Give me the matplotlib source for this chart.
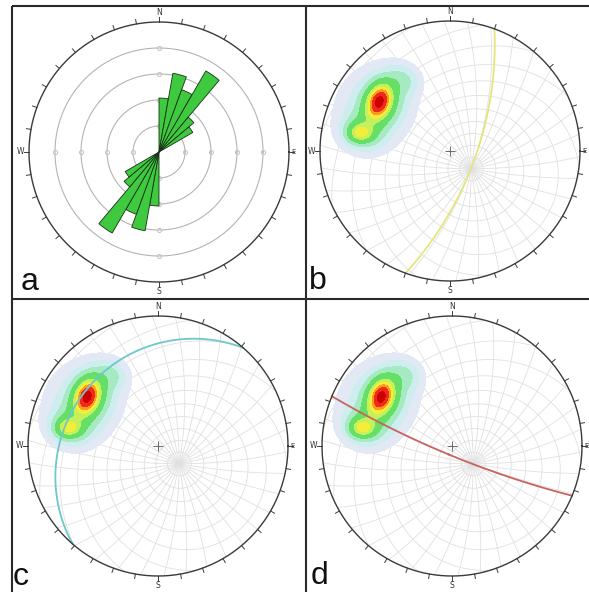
import numpy as np
import matplotlib.pyplot as plt

# taille de la figure (pixels)
W_PX, H_PX = 589, 592
R_PX = 130.0

# centres des canevas (pixels, origine en haut a gauche)
centre_a = (159, 152)
centre_b = (450, 151)
centre_c = (158, 446)
centre_d = (452, 446)

# rose des directions : classes de 10 degres (bidirectionnelle)
rose_azim = np.arange(0, 180, 10)
rose_eff = [8.3, 12.3, 10.2, 14.4, 7.0, 6.0, 0, 0, 0, 0, 0, 0, 0, 0, 0, 0, 0, 0]
rose_cercles = [4, 8, 12, 16]
rose_max = 20

# pole du canevas tourne (azimut, plongement)
pole_canevas = (130, 66)

# amas de densite (coordonnees projetees, rayon du canevas = 1)
dens_x = [-0.545, -0.53, -0.69, -0.67, -0.35, -0.58]
dens_y = [0.38, 0.37, 0.14, 0.15, 0.55, 0.33]
dens_amp = [0.70, 0.27, 0.38, 0.19, 0.10, 0.10]
dens_sx = [0.058, 0.10, 0.06, 0.10, 0.08, 0.20]
dens_sy = [0.088, 0.14, 0.045, 0.085, 0.07, 0.22]
dens_rot = [20, 25, 0, 10, 30, 30]

# niveaux (fraction du maximum) et couleurs des contours
niveaux = [0.03, 0.07, 0.13, 0.22, 0.40, 0.52, 0.64, 0.76, 0.92, 1.01]
couleurs = ['#e3e9f4', '#cdedee', '#a6eac2', '#66df66', '#c6ef5c',
            '#f2ee3c', '#ff9a1c', '#f02a1a', '#cc0000']

# plans : (direction de pendage, pendage)
plan_b = (110, 67.5)
plan_c = (311, 20)
plan_d = (202.5, 82)


def vecteur(az, pl):
    az, pl = np.radians(az), np.radians(pl)
    return np.array([np.cos(pl) * np.cos(az), np.cos(pl) * np.sin(az), np.sin(pl)])


# projection stereographique (Wulff), hemisphere inferieur
def projette(v):
    n, e, d = v
    d = np.where(d < -1e-9, np.nan, d)
    return e / (1 + d), n / (1 + d)


def base(axe):
    axe = axe / np.linalg.norm(axe)
    z = np.array([0.0, 0.0, 1.0])
    e1 = z - axe * np.dot(z, axe)
    if np.linalg.norm(e1) < 1e-6:
        e1 = np.array([1.0, 0.0, 0.0])
    e1 = e1 / np.linalg.norm(e1)
    e2 = np.cross(axe, e1)
    return axe, e1, e2


def petit_cercle(axe, alpha, nb=1441):
    axe, e1, e2 = base(axe)
    s = np.linspace(0, 2 * np.pi, nb)
    a = np.radians(alpha)
    pts = np.cos(a) * axe[:, None] + np.sin(a) * (np.cos(s) * e1[:, None] + np.sin(s) * e2[:, None])
    return projette(pts)


def grand_cercle(plan):
    dd, dip = plan
    return petit_cercle(vecteur(dd + 180, 90 - dip), 90)


def canevas(centre):
    cx, cy = centre
    dem = 150.0
    ax = fig.add_axes([(cx - dem) / W_PX, 1 - (cy + dem) / H_PX, 2 * dem / W_PX, 2 * dem / H_PX])
    ax.set_xlim(-dem / R_PX, dem / R_PX)
    ax.set_ylim(-dem / R_PX, dem / R_PX)
    ax.axis('off')
    return ax


def bordure(ax):
    t = np.linspace(0, 2 * np.pi, 721)
    ax.plot(np.cos(t), np.sin(t), color='#3a3a3a', lw=1.0, zorder=6)
    for az in range(0, 360, 10):
        a = np.radians(az)
        ax.plot([np.sin(a), 1.035 * np.sin(a)], [np.cos(a), 1.035 * np.cos(a)],
                color='#3a3a3a', lw=0.7, zorder=6)
    ax.text(0, 1.035, 'N', fontsize=5.5, color='#333333', ha='center', va='bottom')
    ax.text(0, -1.04, 'S', fontsize=5.5, color='#333333', ha='center', va='top')
    ax.text(-1.035, 0, 'W', fontsize=5.5, color='#333333', ha='right', va='center')
    ax.text(1.02, 0, 'E', fontsize=5, color='#333333', ha='left', va='center')


def grille(ax):
    p, e1, e2 = base(vecteur(*pole_canevas))
    for alpha in range(10, 180, 10):
        x, y = petit_cercle(p, alpha)
        ax.plot(x, y, color='#e0e0e0', lw=0.6, zorder=1)
    for phi in range(0, 180, 10):
        f = np.radians(phi)
        w = -np.sin(f) * e1 + np.cos(f) * e2
        x, y = petit_cercle(w, 90)
        ax.plot(x, y, color='#e0e0e0', lw=0.6, zorder=1)
    ax.plot(0, 0, '+', color='#6a6a6a', ms=7, mew=0.7, zorder=5)


def densite(ax):
    xs = np.linspace(-1, 1, 400)
    X, Y = np.meshgrid(xs, xs)
    Z = np.zeros_like(X)
    for x0, y0, a, sx, sy, rot in zip(dens_x, dens_y, dens_amp, dens_sx, dens_sy, dens_rot):
        r = np.radians(rot)
        u = (X - x0) * np.cos(r) - (Y - y0) * np.sin(r)
        v = (X - x0) * np.sin(r) + (Y - y0) * np.cos(r)
        Z += a * np.exp(-0.5 * ((u / sx) ** 2 + (v / sy) ** 2))
    Z = Z / Z.max()
    Z[X ** 2 + Y ** 2 > 1] = np.nan
    ax.contourf(X, Y, Z, levels=niveaux, colors=couleurs, zorder=2)


fig = plt.figure(figsize=(W_PX / 100, H_PX / 100), dpi=100)

# cadre des panneaux
cadre = fig.add_axes([0, 0, 1, 1])
cadre.set_xlim(0, W_PX)
cadre.set_ylim(H_PX, 0)
cadre.axis('off')
for xs, ys in [([12, 589], [6, 6]), ([12, 12], [6, 592]),
               ([12, 589], [299, 299]), ([306, 306], [6, 592])]:
    cadre.plot(xs, ys, color='#2a2a2a', lw=1.5, solid_capstyle='butt')

# (a) rose des directions
ax = canevas(centre_a)
bordure(ax)
t = np.linspace(0, 2 * np.pi, 361)
for c in rose_cercles:
    rr = c / rose_max
    ax.plot(rr * np.cos(t), rr * np.sin(t), color='#b4b4b4', lw=0.8, zorder=1)
    ax.plot([0, 0, rr, -rr], [rr, -rr, 0, 0], 'o', ms=3, mfc='none', mec='#c4c4c4', mew=0.7, zorder=1)

cx, cy = centre_a
axp = fig.add_axes([(cx - R_PX) / W_PX, 1 - (cy + R_PX) / H_PX, 2 * R_PX / W_PX, 2 * R_PX / H_PX],
                   projection='polar')
axp.set_theta_zero_location('N')
axp.set_theta_direction(-1)
axp.set_ylim(0, rose_max)
axp.axis('off')
th = np.radians(np.concatenate([rose_azim, rose_azim + 180]))
axp.bar(th, rose_eff + rose_eff, width=np.radians(10), align='edge',
        color='#3ec93e', edgecolor='#163016', lw=0.6)

# (b), (c), (d) canevas avec densite et plan
for centre, plan, coul in [(centre_b, plan_b, '#e4e67c'),
                           (centre_c, plan_c, '#6cc9c9'),
                           (centre_d, plan_d, '#c86460')]:
    ax = canevas(centre)
    grille(ax)
    densite(ax)
    x, y = grand_cercle(plan)
    ax.plot(x, y, color=coul, lw=1.3, zorder=4)
    bordure(ax)

# lettres des panneaux
for lab, x, y in [('a', 21, 290), ('b', 309, 289), ('c', 13, 585), ('d', 311, 584)]:
    fig.text(x / W_PX, 1 - y / H_PX, lab, fontsize=23, family='Liberation Sans',
             ha='left', va='baseline', color='#111111')

fig.savefig('out.png', dpi=100)
